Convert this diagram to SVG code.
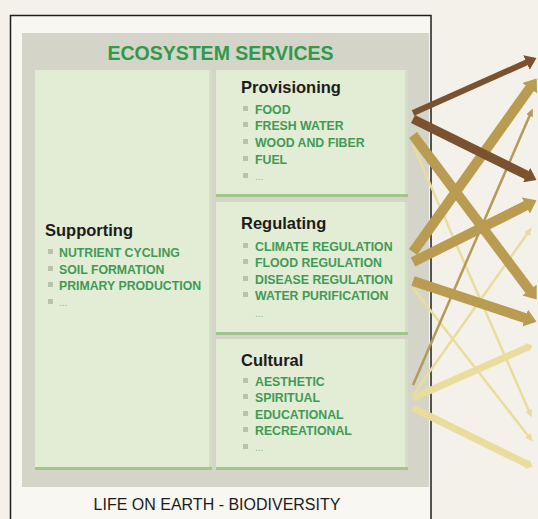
<svg xmlns="http://www.w3.org/2000/svg" width="538" height="519" viewBox="0 0 538 519">
  <defs>
    <style>
      .title { font-family: "Liberation Sans", Arial, sans-serif; font-weight: bold; font-size: 19.5px; fill: #2f9a4a; }
      .head { font-family: "Liberation Sans", Arial, sans-serif; font-weight: bold; font-size: 16.5px; fill: #1c1c1c; }
      .item { font-family: "Liberation Sans", Arial, sans-serif; font-weight: bold; font-size: 12.3px; fill: #3f9a55; }
      .dots { font-family: "Liberation Sans", Arial, sans-serif; font-size: 10px; fill: #8db58f; }
      .foot { font-family: "Liberation Sans", Arial, sans-serif; font-size: 16px; fill: #1c1c1c; }
      .box { fill: #e3edd5; }
      .boxedge { fill: #d2dfc2; }
      .boxbar { fill: #a2c589; }
      .bullet { fill: #b8c4a9; }
      .arr { fill: none; stroke-linecap: butt; }
      .brown { stroke: #7a5230; }
      .tan { stroke: #b99c52; }
      .olive { stroke: #b49a58; }
      .pale { stroke: #eadc9c; }
    </style>
    <marker id="h-brown" markerUnits="userSpaceOnUse" markerWidth="11" markerHeight="16" viewBox="0 0 11 16" refX="0.5" refY="8" orient="auto">
      <path d="M0,0 L11,8 L0,16 z" fill="#7a5230"/>
    </marker>
    <marker id="h-tan" markerUnits="userSpaceOnUse" markerWidth="12" markerHeight="18" viewBox="0 0 12 18" refX="0.5" refY="9" orient="auto">
      <path d="M0,0 L12,9 L0,18 z" fill="#b99c52"/>
    </marker>
    <marker id="h-olive" markerUnits="userSpaceOnUse" markerWidth="8" markerHeight="7" viewBox="0 0 8 7" refX="0.5" refY="3.5" orient="auto">
      <path d="M0,0 L8,3.5 L0,7 z" fill="#b49a58"/>
    </marker>
    <marker id="h-pale" markerUnits="userSpaceOnUse" markerWidth="8" markerHeight="7" viewBox="0 0 8 7" refX="0.5" refY="3.5" orient="auto">
      <path d="M0,0 L8,3.5 L0,7 z" fill="#eadc9c"/>
    </marker>
    <marker id="h-palethick" markerUnits="userSpaceOnUse" markerWidth="6" markerHeight="10" viewBox="0 0 6 10" refX="0.5" refY="5" orient="auto">
      <path d="M0,0 L6,5 L0,10 z" fill="#eadc9c"/>
    </marker>
  </defs>

  <!-- background and frame -->
  <rect x="0" y="0" width="538" height="519" fill="#f3f1e9"/>
  <rect x="10.5" y="15.5" width="420.5" height="520" fill="#f8f7f2" stroke="#1e1e1e" stroke-width="1.5"/>
  <rect x="22" y="33" width="407" height="454" fill="#d4d4c9"/>

  <g id="title">
    <text class="title" x="220.5" y="60" text-anchor="middle">ECOSYSTEM SERVICES</text>
  </g>

  <g id="supporting">
    <rect class="box" x="35" y="70" width="177" height="400"/>
    <rect class="boxedge" x="209" y="70" width="3" height="400"/>
    <rect class="boxbar" x="35" y="467" width="177" height="3"/>
    <text class="head" x="45" y="236">Supporting</text>
    <rect class="bullet" x="48" y="249" width="5" height="5"/>
    <text class="item" x="59" y="257">NUTRIENT CYCLING</text>
    <rect class="bullet" x="48" y="266" width="5" height="5"/>
    <text class="item" x="59" y="274">SOIL FORMATION</text>
    <rect class="bullet" x="48" y="282" width="5" height="5"/>
    <text class="item" x="59" y="290">PRIMARY PRODUCTION</text>
    <rect class="bullet" x="48" y="299" width="5" height="5"/>
    <text class="dots" x="59" y="306">...</text>
  </g>

  <g id="provisioning">
    <rect class="box" x="216" y="70" width="192" height="127"/>
    <rect class="boxedge" x="405" y="70" width="3" height="127"/>
    <rect class="boxbar" x="216" y="194" width="192" height="3"/>
    <text class="head" x="241" y="93">Provisioning</text>
    <rect class="bullet" x="243" y="106" width="5" height="5"/>
    <text class="item" x="255" y="114">FOOD</text>
    <rect class="bullet" x="243" y="122" width="5" height="5"/>
    <text class="item" x="255" y="130">FRESH WATER</text>
    <rect class="bullet" x="243" y="139" width="5" height="5"/>
    <text class="item" x="255" y="147">WOOD AND FIBER</text>
    <rect class="bullet" x="243" y="156" width="5" height="5"/>
    <text class="item" x="255" y="164">FUEL</text>
    <rect class="bullet" x="243" y="173" width="5" height="5"/>
    <text class="dots" x="255" y="180">...</text>
  </g>

  <g id="regulating">
    <rect class="box" x="216" y="202" width="192" height="133"/>
    <rect class="boxedge" x="405" y="202" width="3" height="133"/>
    <rect class="boxbar" x="216" y="332" width="192" height="3"/>
    <text class="head" x="241" y="229">Regulating</text>
    <rect class="bullet" x="243" y="243" width="5" height="5"/>
    <text class="item" x="255" y="251">CLIMATE REGULATION</text>
    <rect class="bullet" x="243" y="259" width="5" height="5"/>
    <text class="item" x="255" y="267">FLOOD REGULATION</text>
    <rect class="bullet" x="243" y="276" width="5" height="5"/>
    <text class="item" x="255" y="284">DISEASE REGULATION</text>
    <rect class="bullet" x="243" y="292" width="5" height="5"/>
    <text class="item" x="255" y="300">WATER PURIFICATION</text>
    <text class="dots" x="255" y="317">...</text>
  </g>

  <g id="cultural">
    <rect class="box" x="216" y="339" width="192" height="131"/>
    <rect class="boxedge" x="405" y="339" width="3" height="131"/>
    <rect class="boxbar" x="216" y="467" width="192" height="3"/>
    <text class="head" x="241" y="366">Cultural</text>
    <rect class="bullet" x="243" y="378" width="5" height="5"/>
    <text class="item" x="255" y="386">AESTHETIC</text>
    <rect class="bullet" x="243" y="394" width="5" height="5"/>
    <text class="item" x="255" y="402">SPIRITUAL</text>
    <rect class="bullet" x="243" y="411" width="5" height="5"/>
    <text class="item" x="255" y="419">EDUCATIONAL</text>
    <rect class="bullet" x="243" y="427" width="5" height="5"/>
    <text class="item" x="255" y="435">RECREATIONAL</text>
    <rect class="bullet" x="243" y="444" width="5" height="5"/>
    <text class="dots" x="255" y="451">...</text>
  </g>

  <g id="footer">
    <text class="foot" x="217" y="510" text-anchor="middle">LIFE ON EARTH - BIODIVERSITY</text>
  </g>

  <g id="connectors">
    <path class="arr pale" stroke-width="2.5" d="M413,145 L528.8,410.7" marker-end="url(#h-pale)"/>
    <path class="arr pale" stroke-width="2.5" d="M413,395 L527.4,233.5" marker-end="url(#h-pale)"/>
    <path class="arr pale" stroke-width="2.5" d="M413,288 L528.1,435.7" marker-end="url(#h-pale)"/>
    <path class="arr pale" stroke-width="7" d="M413,398 L527.5,347.4" marker-end="url(#h-palethick)"/>
    <path class="arr pale" stroke-width="7" d="M413,408 L527.6,464.4" marker-end="url(#h-palethick)"/>
    <path class="arr olive" stroke-width="2.5" d="M413,385 L529.8,115.3" marker-end="url(#h-olive)"/>
    <path class="arr tan" stroke-width="10" d="M413,135 L529.8,290.4" marker-end="url(#h-tan)"/>
    <path class="arr tan" stroke-width="10" d="M413,281 L525.6,318.2" marker-end="url(#h-tan)"/>
    <path class="arr tan" stroke-width="10" d="M413,262 L526.3,205.4" marker-end="url(#h-tan)"/>
    <path class="arr tan" stroke-width="10" d="M413,252 L530.0,87.8" marker-end="url(#h-tan)"/>
    <path class="arr brown" stroke-width="6" d="M413,113 L526.9,62.3" marker-end="url(#h-brown)"/>
    <path class="arr brown" stroke-width="9" d="M413,119 L527.1,175.3" marker-end="url(#h-brown)"/>
  </g>
</svg>
